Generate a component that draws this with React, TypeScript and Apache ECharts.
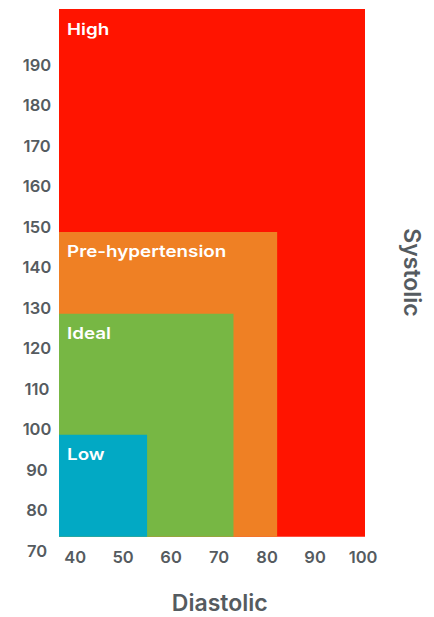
import React, { useEffect, useRef } from "react";
import * as echarts from "echarts";

// Zones, drawn largest first so smaller zones sit on top
const zoneNames = ["High", "Pre-hypertension", "Ideal", "Low"];
const zoneColors = ["#ff1400", "#ef8024", "#77b744", "#02a9c4"];
const diastolicStart = [36.65, 36.65, 36.65, 36.65];
const diastolicEnd = [100.4, 82.1, 73.0, 55.0];
const systolicStart = [73.46, 73.46, 73.46, 73.46];
const systolicEnd = [203.8, 148.74, 128.55, 98.66];

// Axis tick labels
const diastolicTicks = [40, 50, 60, 70, 80, 90, 100];
const systolicTicks = [70, 80, 90, 100, 110, 120, 130, 140, 150, 160, 170, 180, 190];

const xTitle = "Diastolic";
const yTitle = "Systolic";

const FONT = "Inter, 'Open Sans', sans-serif";
const GREY = "#555b60";

export default function App() {
  const ref = useRef<HTMLDivElement>(null);

  useEffect(() => {
    if (!ref.current) return;
    const chart = echarts.init(ref.current, undefined, { renderer: "svg" });

    const data = zoneNames.map((name, i) => ({
      name,
      value: [diastolicStart[i], diastolicEnd[i], systolicStart[i], systolicEnd[i]],
    }));

    const option: any = {
      animation: false,
      grid: { left: 59, right: 69, top: 9, bottom: 66.3, containLabel: false },
      xAxis: {
        type: "value",
        min: 36.65,
        max: 100.4,
        axisLine: { show: false },
        axisTick: { show: false },
        splitLine: { show: false },
        axisLabel: {
          customValues: diastolicTicks,
          margin: -2,
          color: GREY,
          fontFamily: FONT,
          fontWeight: 600,
          fontSize: 16.5,
        },
      },
      yAxis: {
        type: "value",
        min: 70,
        max: 203.8,
        axisLine: { show: false },
        axisTick: { show: false },
        splitLine: { show: false },
        axisLabel: {
          customValues: systolicTicks,
          align: "center",
          margin: 22,
          color: GREY,
          fontFamily: FONT,
          fontWeight: 600,
          fontSize: 16.5,
        },
      },
      series: [
        {
          type: "custom",
          data: data.map((d) => d.value),
          renderItem: (params: any, api: any) => {
            const i = params.dataIndex;
            const p0 = api.coord([api.value(0), api.value(3)]);
            const p1 = api.coord([api.value(1), api.value(2)]);
            return {
              type: "group",
              children: [
                {
                  type: "rect",
                  shape: { x: p0[0], y: p0[1], width: p1[0] - p0[0], height: p1[1] - p0[1] },
                  style: { fill: zoneColors[i] },
                },
                {
                  type: "text",
                  x: p0[0] + 8,
                  y: p0[1] + 11,
                  scaleX: 1.14,
                  style: {
                    text: zoneNames[i],
                    fill: "#ffffff",
                    font: `600 16.5px ${FONT}`,
                    textAlign: "left",
                    textVerticalAlign: "top",
                  },
                },
              ],
            };
          },
        },
      ],
      graphic: [
        {
          type: "text",
          x: 219.7,
          y: 603,
          style: {
            text: xTitle,
            fill: GREY,
            font: `600 23px ${FONT}`,
            textAlign: "center",
            textVerticalAlign: "middle",
          },
        },
        {
          type: "text",
          x: 412,
          y: 272.5,
          rotation: -Math.PI / 2,
          style: {
            text: yTitle,
            fill: GREY,
            font: `600 23px ${FONT}`,
            textAlign: "center",
            textVerticalAlign: "middle",
          },
        },
      ],
    };

    chart.setOption(option);
    return () => chart.dispose();
  }, []);

  return (
    <div
      ref={ref}
      style={{ position: "fixed", left: 0, top: 0, width: 434, height: 617, background: "#ffffff" }}
    />
  );
}
